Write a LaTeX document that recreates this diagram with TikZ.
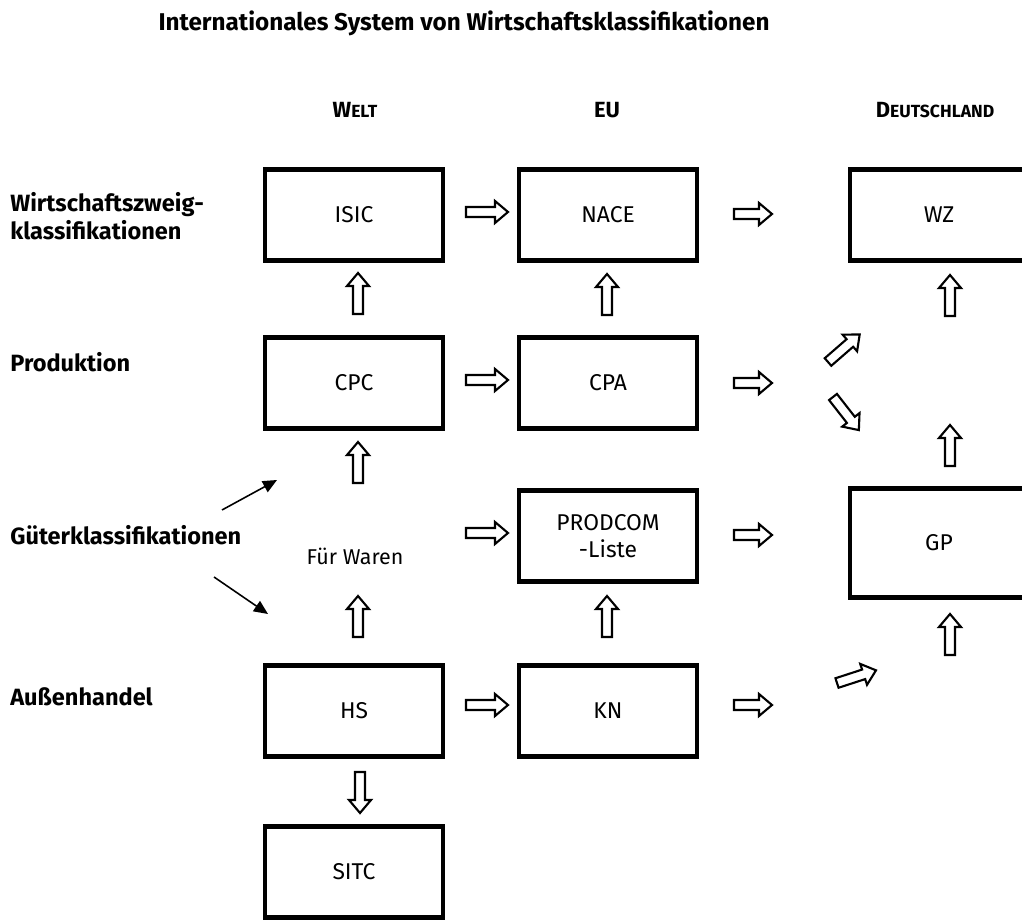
\documentclass[tikz,border=0pt]{standalone}
\usepackage{fontspec}
\setmainfont{Fira Sans}
\usetikzlibrary{arrows.meta,calc}
\begin{document}
\begin{tikzpicture}[x=0.02cm,y=0.02cm,
  box/.style={draw, line width=2.8pt, minimum width=3.56cm, minimum height=1.82cm, inner sep=0pt, font=\fontsize{13}{15.5}\selectfont, align=center},
  lab/.style={anchor=west, inner sep=0pt, font=\bfseries\fontsize{13.4}{16}\selectfont, align=left},
  head/.style={inner sep=0pt, font=\bfseries\fontsize{12.5}{14}\selectfont},
  harrline/.style={draw, line width=1.2pt, line join=miter, fill=white},
  thinarr/.style={line width=0.9pt, -{Triangle[length=8pt, width=7pt]}},
  pics/harr/.style={code={\draw[harrline] (0,-5) -- ({#1-13},-5) -- ({#1-13},-11) -- (#1,0) -- ({#1-13},11) -- ({#1-13},5) -- (0,5) -- cycle;}}
]
\useasboundingbox (0,0) rectangle (1022,-922);
% title
\node[inner sep=0pt, font=\bfseries\fontsize{13.8}{16}\selectfont] (title) at (464,-23) {Internationales System von Wirtschaftsklassifikationen};
% column heads
\node[head] (hwelt) at (355,-110) {W{\fontsize{10}{12}\selectfont ELT}};
\node[head] (heu) at (607,-110) {EU};
\node[head] (hde) at (935,-110) {D{\fontsize{10}{12}\selectfont EUTSCHLAND}};
% row labels
\node[lab] (lwz) at (10,-216) {Wirtschaftszweig-\\klassifikationen};
\node[lab] (lprod) at (10,-362) {Produktion};
\node[lab] (lgut) at (10,-535) {Güterklassifikationen};
\node[lab] (laus) at (10,-697) {Außenhandel};
% boxes
\node[box] (isic) at (354,-215) {ISIC};
\node[box] (nace) at (608,-215) {NACE};
\node[box] (wz) at (939,-215) {WZ};
\node[box] (cpc) at (354,-383) {CPC};
\node[box] (cpa) at (608,-383) {CPA};
\node[box] (prodcom) at (608,-536) {PRODCOM\\-Liste};
\node[box, minimum height=2.18cm] (gp) at (939,-543) {GP};
\node[box] (hs) at (354,-711) {HS};
\node[box] (kn) at (608,-711) {KN};
\node[box] (sitc) at (354,-872) {SITC};
\node[inner sep=0pt, font=\fontsize{12.2}{14}\selectfont] (waren) at (355,-556) {Für Waren};
% hollow arrows (horizontal)
\pic at (466,-212) {harr=42};
\pic at (734,-214) {harr=38};
\pic at (466,-380) {harr=42};
\pic at (734,-383) {harr=38};
\pic at (466,-533) {harr=42};
\pic at (734,-535) {harr=38};
\pic at (466,-705) {harr=42};
\pic at (734,-705) {harr=38};
% vertical up
\pic[rotate=90] at (358,-314) {harr=41};
\pic[rotate=90] at (607,-315) {harr=41};
\pic[rotate=90] at (950,-316) {harr=41};
\pic[rotate=90] at (358,-483) {harr=41};
\pic[rotate=90] at (950,-466) {harr=41};
\pic[rotate=90] at (358,-637) {harr=41};
\pic[rotate=90] at (607,-637) {harr=41};
\pic[rotate=90] at (950,-655) {harr=41};
% vertical down
\pic[rotate=-90] at (360,-772) {harr=41};
% diagonal
\pic[rotate=41] at (828,-362) {harr=42};
\pic[rotate=-52] at (833,-397) {harr=42};
\pic[rotate=18] at (837,-683) {harr=41};
% thin arrows from Gueterklassifikationen
\coordinate (g1s) at (222,-510);
\coordinate (g1e) at (277,-480);
\coordinate (g2s) at (214,-577);
\coordinate (g2e) at (268,-614);
\draw[thinarr] (g1s) -- (g1e);
\draw[thinarr] (g2s) -- (g2e);
\end{tikzpicture}
\end{document}
